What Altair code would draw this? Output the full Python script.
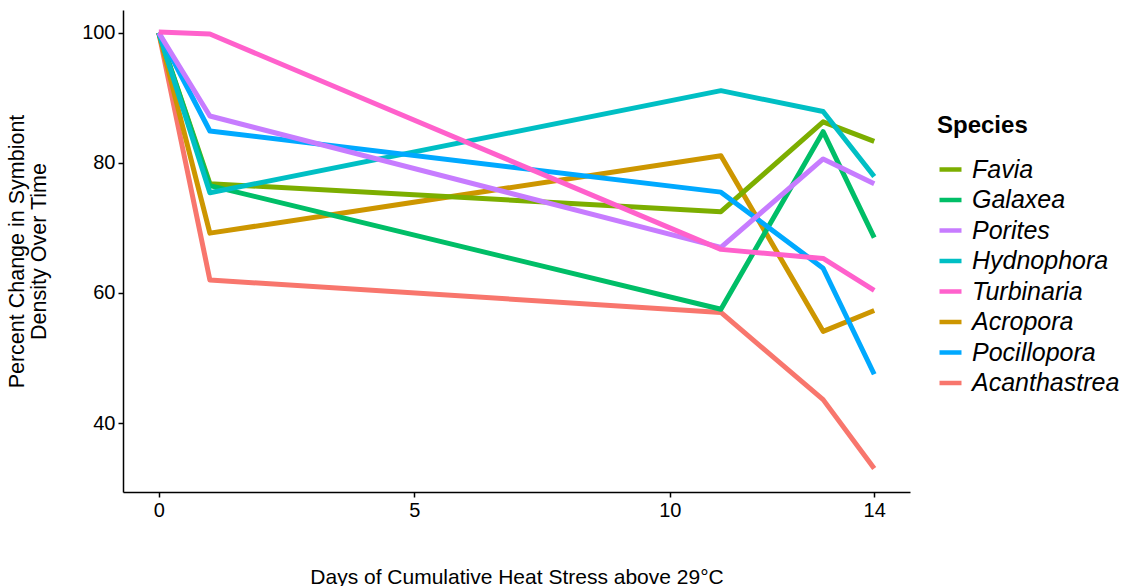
import altair as alt
import pandas as pd

days = [0, 1, 11, 13, 14]
species_order = ["Favia", "Galaxea", "Porites", "Hydnophora", "Turbinaria",
                 "Acropora", "Pocillopora", "Acanthastrea"]
colors = ["#7CAE00", "#00BE67", "#C77CFF", "#00BFC4", "#FF61CC",
          "#CD9600", "#00A9FF", "#F8766D"]

acanthastrea = [100, 62.0, 57.0, 43.6, 33.0]
acropora = [100, 69.2, 81.1, 54.1, 57.3]
favia = [100, 76.8, 72.5, 86.3, 83.3]
galaxea = [100, 76.5, 57.5, 84.8, 68.5]
hydnophora = [100, 75.4, 91.1, 87.9, 77.9]
pocillopora = [100, 84.9, 75.5, 63.8, 47.5]
porites = [100, 87.2, 67.0, 80.6, 76.8]
turbinaria = [100.1, 99.8, 66.7, 65.3, 60.4]

series = {
    "Acanthastrea": acanthastrea,
    "Acropora": acropora,
    "Favia": favia,
    "Galaxea": galaxea,
    "Hydnophora": hydnophora,
    "Pocillopora": pocillopora,
    "Porites": porites,
    "Turbinaria": turbinaria,
}

rows = []
for i, (name, vals) in enumerate(series.items()):
    for d, v in zip(days, vals):
        rows.append({"Species": name, "Day": d, "Value": v, "ord": i})
df = pd.DataFrame(rows)

FONT = "Liberation Sans"

chart = alt.Chart(df).mark_line(strokeWidth=5, strokeJoin="round").encode(
    x=alt.X("Day:Q",
            scale=alt.Scale(domain=[-0.7, 14.7], nice=False, zero=False),
            axis=alt.Axis(values=[0, 5, 10, 14], title="Days of Cumulative Heat Stress above 29°C",
                          grid=False, domainColor="black", domainWidth=1.5,
                          tickColor="black", tickSize=5, tickWidth=1.5,
                          labelFontSize=20, labelColor="black", labelPadding=3,
                          titleFontSize=21, titleFontWeight="normal", titleColor="black",
                          titlePadding=46, labelFont=FONT, titleFont=FONT)),
    y=alt.Y("Value:Q",
            scale=alt.Scale(domain=[29.4, 103.5], nice=False, zero=False),
            axis=alt.Axis(values=[40, 60, 80, 100],
                          title=["Percent Change in Symbiont", "Density Over Time"],
                          grid=False, domainColor="black", domainWidth=1.5,
                          tickColor="black", tickSize=5, tickWidth=1.5,
                          labelFontSize=20, labelColor="black", labelPadding=3,
                          titleFontSize=21.5, titleFontWeight="normal", titleColor="black",
                          titleLineHeight=22,
                          titlePadding=31, labelFont=FONT, titleFont=FONT)),
    color=alt.Color("Species:N",
                    scale=alt.Scale(domain=species_order, range=colors),
                    legend=alt.Legend(title="Species", orient="none", legendX=814, legendY=104,
                                      symbolType="stroke", symbolStrokeWidth=4.5, symbolSize=484,
                                      titleFontSize=24, titleFont=FONT, titleColor="black",
                                      titleFontWeight="bold", titlePadding=18,
                                      labelFontSize=25, labelFont=FONT, labelColor="black",
                                      labelFontStyle="italic", labelOffset=8,
                                      rowPadding=3.5)),
    order=alt.Order("ord:Q"),
    detail="Species:N",
).properties(
    width=787, height=482,
    autosize=alt.AutoSizeParams(type="none"),
    padding={"left": 123, "top": 10, "right": 213, "bottom": 94},
).configure(background="white").configure_view(stroke=None)

chart.save("out.html", embed_options={"renderer": "svg", "actions": False})
